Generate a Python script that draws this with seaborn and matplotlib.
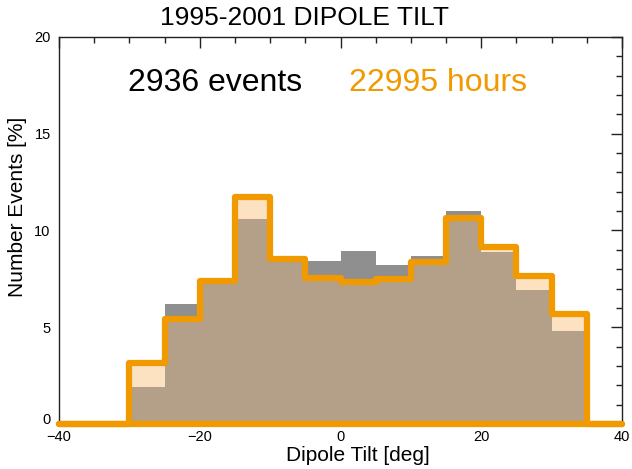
import numpy as np
import pandas as pd
import seaborn as sns
import matplotlib.pyplot as plt
import matplotlib.transforms as mtransforms
from matplotlib.ticker import MultipleLocator

# dipole tilt bins (5 deg wide), percentages
bin_edges = [-40, -35, -30, -25, -20, -15, -10, -5, 0, 5, 10, 15, 20, 25, 30, 35, 40]
events_pct = [0, 0, 1.93, 6.19, 7.30, 10.6, 8.65, 8.42, 8.92, 8.20, 8.67, 10.99, 8.90, 6.93, 4.82, 0]
hours_pct = [0, 0, 3.17, 5.41, 7.41, 11.75, 8.53, 7.53, 7.36, 7.51, 8.37, 10.63, 9.16, 7.67, 5.68, 0]

title = "1995-2001 DIPOLE TILT"
n_events = "2936 events"
n_hours = "22995 hours"

GREY = "#8f8f8f"
PEACH = "#fde2c2"
TAN = "#b4a088"
ORANGE = "#f09a00"

sns.set_style("white")
plt.rcParams["font.family"] = ["Liberation Sans", "DejaVu Sans"]
plt.rcParams["text.color"] = "black"
plt.rcParams["axes.labelcolor"] = "black"
plt.rcParams["xtick.labelcolor"] = "black"
plt.rcParams["ytick.labelcolor"] = "black"

edges = np.array(bin_edges, dtype=float)
df = pd.DataFrame({
    "tilt": (edges[:-1] + edges[1:]) / 2,
    "events": events_pct,
    "hours": hours_pct,
})
df["overlap"] = np.minimum(df["events"], df["hours"])

fig = plt.figure(figsize=(6.32, 4.69), dpi=100)
ax = fig.add_axes([59 / 632, 45 / 469, 563 / 632, 387 / 469])

for col, color in [("events", GREY), ("hours", PEACH), ("overlap", TAN)]:
    sns.histplot(data=df, x="tilt", weights=col, bins=bin_edges, ax=ax,
                 color=color, linewidth=0, alpha=1)
sns.histplot(data=df, x="tilt", weights="hours", bins=bin_edges, ax=ax,
             element="step", fill=False, color=ORANGE, linewidth=4.5)
for line in ax.lines:
    line.set_clip_on(False)
ax.axhline(0, color=ORANGE, linewidth=4.5, clip_on=False, zorder=5)

ax.set_xlim(-40, 40)
ax.set_ylim(0, 20)
ax.xaxis.set_major_locator(MultipleLocator(20))
ax.xaxis.set_minor_locator(MultipleLocator(5))
ax.yaxis.set_major_locator(MultipleLocator(5))
ax.yaxis.set_minor_locator(MultipleLocator(1))
ax.tick_params(which="both", direction="in", top=True, right=True,
               labelsize=10.5, color="#222222", width=1)
ax.tick_params(which="major", length=8, pad=6)
ax.tick_params(axis="x", which="major", pad=4)
ax.tick_params(which="minor", length=4)
for s in ax.spines.values():
    s.set_color("#222222")
    s.set_linewidth(1)

# the bottom "0" on the y axis sits a little higher, clear of "-40"
fig.canvas.draw()
shift = mtransforms.ScaledTranslation(0, 6 / 100, fig.dpi_scale_trans)
for lab in ax.get_yticklabels():
    if lab.get_position()[1] == 0:
        lab.set_transform(lab.get_transform() + shift)

ax.set_xlabel("Dipole Tilt [deg]", fontsize=15)
ax.set_ylabel("Number Events [%]", fontsize=15)
ax.xaxis.set_label_coords(0.531, -0.057)
ax.yaxis.set_label_coords(-0.057, 0.56)

fig.text(305 / 632, 1 - 18 / 469, title, fontsize=19, ha="center", va="center")
fig.text(215 / 632, 1 - 83 / 469, n_events, fontsize=23, ha="center", va="center")
fig.text(438 / 632, 1 - 83 / 469, n_hours, fontsize=23, ha="center", va="center", color=ORANGE)

fig.savefig("out.png", dpi=100)
